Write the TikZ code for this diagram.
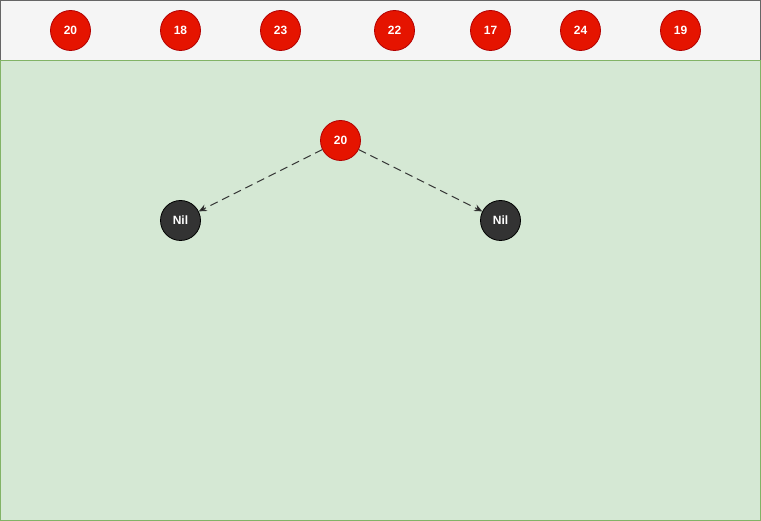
\documentclass[tikz,border=0pt]{standalone}
\usepackage{fontspec}
\setmainfont{Liberation Sans}
\usetikzlibrary{arrows.meta}
\definecolor{redfill}{HTML}{E51400}
\definecolor{redline}{HTML}{B20000}
\definecolor{nilfill}{HTML}{333333}
\definecolor{barfill}{HTML}{F5F5F5}
\definecolor{barline}{HTML}{666666}
\definecolor{greenfill}{HTML}{D5E8D4}
\definecolor{greenline}{HTML}{82B366}
\tikzset{rednode/.style={circle, draw=redline, fill=redfill, line width=0.8pt, minimum size=40pt, inner sep=0pt, text=white, font=\bfseries\fontsize{12}{14}\selectfont}}
\tikzset{nilnode/.style={circle, draw=black, fill=nilfill, line width=0.8pt, minimum size=40pt, inner sep=0pt, text=white, font=\bfseries\fontsize{12}{14}\selectfont}}
\tikzset{link/.style={draw=nilfill, line width=1pt, dash pattern=on 8pt off 5pt, -{Stealth[length=8pt,width=7pt]}}}

\begin{document}
\begin{tikzpicture}[x=1pt,y=-1pt]
  \useasboundingbox (-0.5,-0.5) rectangle (760.5,520.5);
  \draw[fill=barfill, draw=barline] (0,0) rectangle (760,60);
  \draw[fill=greenfill, draw=greenline] (0,60) rectangle (760,520);
  \foreach \x/\lab in {
    70/20,
    180/18,
    280/23,
    394/22,
    490/17,
    580/24,
    680/19%
  } {
    \node[rednode] (in\lab) at (\x, 30) {\lab};
  }
  \node[rednode] (root) at (340, 140) {20};
  \node[nilnode] (nilL) at (180, 220) {Nil};
  \node[nilnode] (nilR) at (500, 220) {Nil};
  \foreach \u/\v in {
    root/nilL,
    root/nilR%
  }{
    \draw[link] (\u) edge (\v);
  }
\end{tikzpicture}
\end{document}
